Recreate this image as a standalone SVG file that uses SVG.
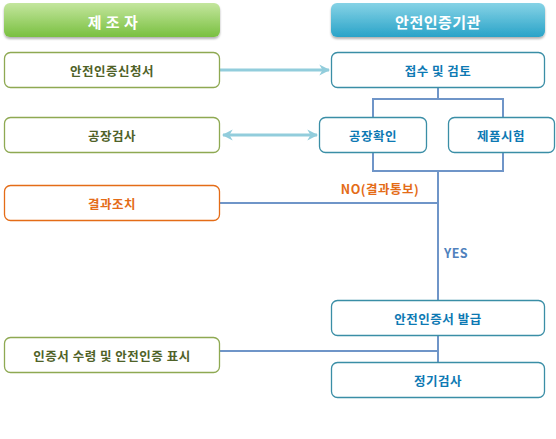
<svg xmlns="http://www.w3.org/2000/svg" width="556" height="439" viewBox="0 0 556 439">
<defs>
<linearGradient id="gG" x1="0" y1="0" x2="0" y2="1"><stop offset="0" stop-color="#c4e69e"/><stop offset="1" stop-color="#79c040"/></linearGradient>
<linearGradient id="gB" x1="0" y1="0" x2="0" y2="1"><stop offset="0" stop-color="#86d3e6"/><stop offset="1" stop-color="#2aa3c8"/></linearGradient>
<filter id="sh" x="-5%" y="-20%" width="110%" height="150%"><feDropShadow dx="0" dy="2" stdDeviation="1.2" flood-color="#000" flood-opacity="0.3"/></filter>
<marker id="ah" viewBox="0 0 10 10" refX="9" refY="5" markerWidth="3.6" markerHeight="4" orient="auto-start-reverse" markerUnits="strokeWidth"><path d="M0,0 L10,5 L0,10 L3,5 Z" fill="#92cddc"/></marker>
</defs>
<style>
text{font-family:"Noto Sans CJK KR","Noto Sans",sans-serif;font-weight:bold;text-anchor:middle;dominant-baseline:central}
.hd{font-size:15px;fill:#fff;letter-spacing:0.5px}
.t{font-size:12.5px;letter-spacing:0.5px}
.gb{fill:#fff;stroke:#8ea952;stroke-width:1.3}
.gt{fill:#4f6228}
.bb{fill:#fff;stroke:#3a8ea6;stroke-width:1.3}
.bt{fill:#0d79b3}
.ob{fill:#fff;stroke:#e46c17;stroke-width:1.3}
.ot{fill:#e46c17}
.ln{fill:none;stroke:#6f95c8;stroke-width:2}
.ar{fill:none;stroke:#92cddc;stroke-width:3}
</style>
<g id="connectors">
<path class="ar" d="M220,70 H329" marker-end="url(#ah)"/>
<path class="ar" d="M223,135 H317" marker-start="url(#ah)" marker-end="url(#ah)"/>
<path class="ln" d="M438,88 V99 M373,117 V99 H503 V117"/>
<path class="ln" d="M373,153 V171 H503 V153 M438,171 V300"/>
<path class="ln" d="M220,203 H438"/>
<path class="ln" d="M438,336 V362 M220,351 H438"/>
<text class="t ot" x="380" y="188" letter-spacing="0">NO(결과통보)</text>
<text class="t" x="456" y="252" fill="#4f81bd" letter-spacing="0">YES</text>
</g>
<g id="header-maker"><rect x="4" y="3" width="216" height="34" rx="6" fill="url(#gG)" filter="url(#sh)"/><text class="hd" x="113" y="21" letter-spacing="4">제 조 자</text></g>
<g id="header-agency"><rect x="331" y="3" width="214" height="34" rx="6" fill="url(#gB)" filter="url(#sh)"/><text class="hd" x="438" y="21">안전인증기관</text></g>
<g id="n-apply"><rect class="gb" x="4.5" y="52.5" width="215" height="35" rx="6"/><text class="t gt" x="112" y="70">안전인증신청서</text></g>
<g id="n-receive"><rect class="bb" x="331.5" y="52.5" width="213" height="35" rx="6"/><text class="t bt" x="438" y="70">접수 및 검토</text></g>
<g id="n-factory-insp"><rect class="gb" x="4.5" y="117.5" width="215" height="35" rx="6"/><text class="t gt" x="112" y="135">공장검사</text></g>
<g id="n-factory-check"><rect class="bb" x="319.5" y="117.5" width="107" height="35" rx="6"/><text class="t bt" x="373" y="135">공장확인</text></g>
<g id="n-product-test"><rect class="bb" x="448.5" y="117.5" width="106" height="35" rx="6"/><text class="t bt" x="501" y="135">제품시험</text></g>
<g id="n-action"><rect class="ob" x="4.5" y="185.5" width="215" height="35" rx="6"/><text class="t ot" x="112" y="203">결과조치</text></g>
<g id="n-issue"><rect class="bb" x="331.5" y="300.5" width="213" height="35" rx="6"/><text class="t bt" x="438" y="318">안전인증서 발급</text></g>
<g id="n-receive-cert"><rect class="gb" x="4.5" y="337.5" width="215" height="35" rx="6"/><text class="t gt" x="112" y="355">인증서 수령 및 안전인증 표시</text></g>
<g id="n-periodic"><rect class="bb" x="331.5" y="362.5" width="213" height="35" rx="6"/><text class="t bt" x="438" y="380">정기검사</text></g>
</svg>
